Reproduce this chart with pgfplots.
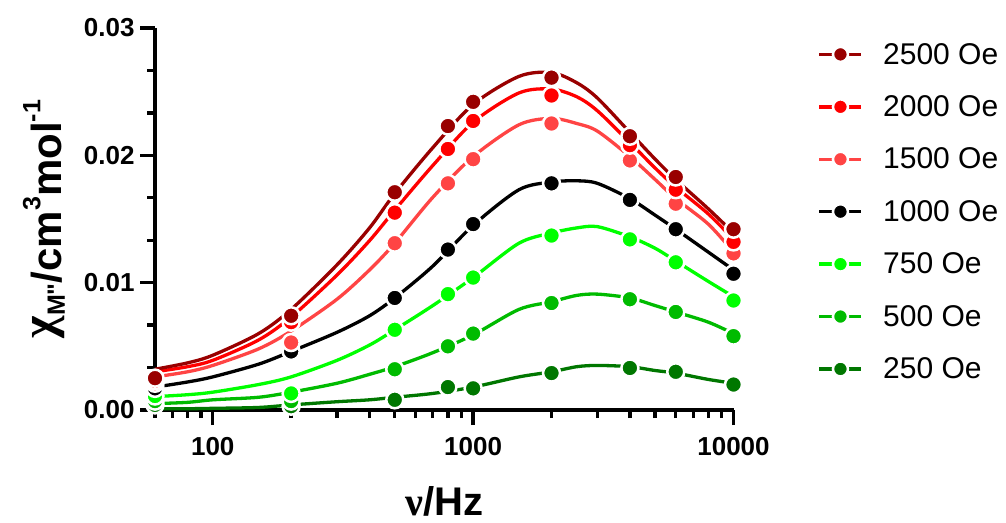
\documentclass[border=0pt]{standalone}
\usepackage{pgfplots}
\pgfplotsset{compat=1.18}
\usepackage{pgfplotstable}
\usepackage{fontspec}
\setmainfont{Liberation Sans}
\newfontfamily\gr{Liberation Serif}
\newfontfamily\rawf{Liberation Sans}[Ligatures=TeXOff]

\definecolor{cA}{HTML}{990000}
\definecolor{cB}{HTML}{FF0000}
\definecolor{cC}{HTML}{FF4444}
\definecolor{cD}{HTML}{000000}
\definecolor{cE}{HTML}{00FF00}
\definecolor{cG}{HTML}{00BB00}
\definecolor{cH}{HTML}{007700}

% fitted curves
\pgfplotstableread{
f     a      b      c      d      e       g      h
60    0.0032 0.0030 0.0026 0.0018 0.00105 0.0005 0.0001
80    0.0037 0.0034 0.0030 0.0022 0.0012  0.0006 0.0001
100   0.0043 0.0039 0.0035 0.0026 0.0014  0.0008 0.00013
150   0.0060 0.0055 0.0048 0.0036 0.0020  0.0010 0.0002
200   0.0079 0.0073 0.0062 0.0046 0.0026  0.0014 0.0004
300   0.0114 0.0106 0.0087 0.0061 0.0039  0.0021 0.00065
400   0.0143 0.0133 0.0110 0.0074 0.0051  0.0028 0.0008
500   0.0170 0.0157 0.0131 0.0088 0.0063  0.0034 0.0010
700   0.0206 0.0192 0.0167 0.0113 0.0082  0.0045 0.0013
1000  0.0240 0.0226 0.0199 0.0145 0.0104  0.0059 0.0018
1500  0.0262 0.0249 0.0224 0.0173 0.0131  0.0079 0.0026
2000  0.0265 0.0252 0.0229 0.0179 0.0139  0.0085 0.0030
2500  0.0257 0.0246 0.0225 0.0180 0.0143  0.0090 0.0034
3000  0.0245 0.0235 0.0219 0.0178 0.0144  0.0091 0.0035
4000  0.0218 0.0210 0.0199 0.0166 0.0136  0.0088 0.0034
5000  0.0197 0.0190 0.0181 0.0153 0.0127  0.0082 0.0031
6000  0.0181 0.0175 0.0166 0.0142 0.0117  0.0077 0.0029
8000  0.0158 0.0154 0.0146 0.0124 0.0101  0.0069 0.0024
10000 0.0139 0.0134 0.0124 0.0110 0.0089  0.0060 0.0021
}\curves

% measured points
\pgfplotstableread{
f     a      b      c      d      e      g      h
60    0.0025 0.0023 0.0021 0.0017 0.0011 0.0007 0.0004
200   0.0074 0.0069 0.0053 0.0046 0.0013 0.0007 0.0003
500   0.0171 0.0155 0.0131 0.0088 0.0063 0.0032 0.0008
800   0.0223 0.0205 0.0178 0.0126 0.0091 0.0050 0.0018
1000  0.0242 0.0227 0.0197 0.0146 0.0104 0.0060 0.0017
2000  0.0261 0.0247 0.0225 0.0178 0.0137 0.0084 0.0029
4000  0.0215 0.0208 0.0196 0.0165 0.0134 0.0087 0.0033
6000  0.0183 0.0173 0.0162 0.0142 0.0116 0.0077 0.0030
10000 0.0142 0.0132 0.0123 0.0107 0.0086 0.0058 0.0020
}\points

\pgfplotsset{
  curve/.style={#1, line width=3.3bp, smooth, forget plot},
  pts/.style={#1, only marks, mark=*, line width=3.5bp,
    mark size=8.5bp, mark options={draw=white, fill=#1, line width=2.5bp, solid}},
}

\newcommand{\sm}[1]{{\fontsize{25bp}{25bp}\selectfont #1}}

\begin{document}
\begin{tikzpicture}
\path (0,0) rectangle (1006bp,523bp);
\begin{axis}[
  at={(155bp,113bp)}, anchor=south west,
  scale only axis, width=578.5bp, height=382bp,
  xmode=log, xmin=60, xmax=10000, ymin=0, ymax=0.03,
  axis x line*=bottom, axis y line*=left,
  axis line style={line width=3.5bp, black},
  clip=false,
  scaled y ticks=false,
  xtick={100,1000,10000}, xticklabels={100,1000,10000},
  minor xtick={60,70,80,90,200,300,400,500,600,700,800,900,2000,3000,4000,5000,6000,7000,8000,9000},
  ytick={0,0.01,0.02,0.03}, yticklabels={0.00,0.01,0.02,0.03},
  minor ytick={0.00333,0.00667,0.01333,0.01667,0.02333,0.02667},
  tick align=outside,
  major tick length=15bp, minor tick length=8bp,
  every tick/.style={line width=3.3bp, black},
  tick label style={font=\fontsize{26bp}{30bp}\selectfont\bfseries},
  xticklabel style={yshift=-9bp},
  yticklabel style={xshift=-2bp},
  xlabel={{\gr ν}/Hz},
  xlabel style={at={(axis description cs:0.5,0)}, anchor=center, yshift=-91bp,
    font=\fontsize{40bp}{48bp}\selectfont\bfseries},
  ylabel={\raisebox{0.16em}{\fontsize{48bp}{48bp}\selectfont\gr χ}\raisebox{-0.08em}{\sm{\rawf M"}}/cm\raisebox{0.5em}{\sm{3}}mol\raisebox{0.5em}{\sm{-1}}},
  ylabel style={at={(axis description cs:-0.192,0.5)}, anchor=center,
    font=\fontsize{42bp}{48bp}\selectfont\bfseries},
  legend style={at={(axis description cs:1,1)}, anchor=north west, xshift=81bp, yshift=-11bp,
    draw=none, fill=none, font=\fontsize{30bp}{36bp}\selectfont, row sep=26bp,
    /tikz/every odd column/.append style={column sep=18bp}},
  legend cell align=left,
  reverse legend,
  legend image code/.code={
    \draw[#1, sharp plot, mark repeat=2, mark phase=2, mark size=7.5bp]
      plot coordinates {(0bp,0bp) (21bp,0bp) (42bp,0bp)};
  },
]
\addplot[curve=cH] table[x=f,y=h] {\curves};
\addplot[curve=cG] table[x=f,y=g] {\curves};
\addplot[curve=cE] table[x=f,y=e] {\curves};
\addplot[curve=cD] table[x=f,y=d] {\curves};
\addplot[curve=cC] table[x=f,y=c] {\curves};
\addplot[curve=cB] table[x=f,y=b] {\curves};
\addplot[curve=cA] table[x=f,y=a] {\curves};

\addplot[pts=cH] table[x=f,y=h] {\points};
\addplot[pts=cG] table[x=f,y=g] {\points};
\addplot[pts=cE] table[x=f,y=e] {\points};
\addplot[pts=cD] table[x=f,y=d] {\points};
\addplot[pts=cC] table[x=f,y=c] {\points};
\addplot[pts=cB] table[x=f,y=b] {\points};
\addplot[pts=cA] table[x=f,y=a] {\points};
\legend{250 Oe,500 Oe,750 Oe,1000 Oe,1500 Oe,2000 Oe,2500 Oe}
\end{axis}
\end{tikzpicture}
\end{document}
